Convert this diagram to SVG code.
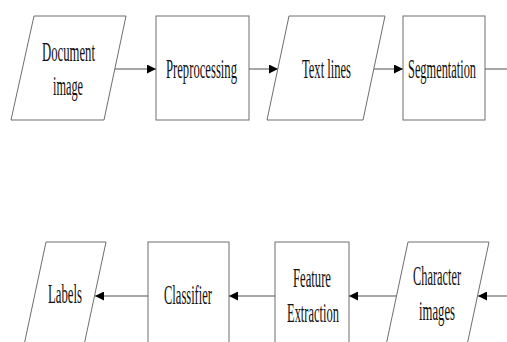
<svg xmlns="http://www.w3.org/2000/svg" width="507" height="342" viewBox="0 0 507 342">
<style>
.shape{fill:#fff;stroke:#6e6e6e;stroke-width:1}
.t{font-family:"Liberation Serif","Times New Roman",serif;font-size:27px;fill:#111}
.edge{fill:none;stroke:#8a8a8a;stroke-width:1.5}
</style>
<defs>
<marker id="ah" viewBox="0 0 10 10" refX="10" refY="5" markerWidth="9" markerHeight="9" markerUnits="userSpaceOnUse" orient="auto">
<path d="M0,0 L10,5 L0,10 Z" fill="#000"/>
</marker>
</defs>
<rect width="507" height="342" fill="#fff"/>
<g id="connectors">
<line class="edge" x1="115" y1="69" x2="156" y2="69" marker-end="url(#ah)"/>
<line class="edge" x1="249" y1="69" x2="278" y2="69" marker-end="url(#ah)"/>
<line class="edge" x1="374" y1="69" x2="403" y2="69" marker-end="url(#ah)"/>
<line class="edge" x1="485" y1="69" x2="507" y2="69"/>
<line class="edge" x1="507" y1="296" x2="478" y2="296" marker-end="url(#ah)"/>
<line class="edge" x1="397" y1="296" x2="349" y2="296" marker-end="url(#ah)"/>
<line class="edge" x1="275" y1="296" x2="229" y2="296" marker-end="url(#ah)"/>
<line class="edge" x1="148" y1="296" x2="95" y2="296" marker-end="url(#ah)"/>
</g>
<g id="document-image">
<polygon class="shape" points="34,16 126,16 104,120 11,120"/>
<text class="t" x="42" y="61" textLength="53" lengthAdjust="spacingAndGlyphs">Document</text>
<text class="t" x="53" y="95" textLength="30" lengthAdjust="spacingAndGlyphs">image</text>
</g>
<g id="preprocessing">
<rect class="shape" x="156" y="16" width="93" height="104"/>
<text class="t" x="166" y="78" textLength="71" lengthAdjust="spacingAndGlyphs">Preprocessing</text>
</g>
<g id="text-lines">
<polygon class="shape" points="289,16 385,16 363,120 267,120"/>
<text class="t" x="302" y="78" textLength="49" lengthAdjust="spacingAndGlyphs">Text lines</text>
</g>
<g id="segmentation">
<rect class="shape" x="403" y="16" width="82" height="104"/>
<text class="t" x="408" y="78" textLength="68" lengthAdjust="spacingAndGlyphs">Segmentation</text>
</g>
<g id="character-images">
<polygon class="shape" points="408,242 489,242 466,350 385,350"/>
<text class="t" x="413" y="285" textLength="48" lengthAdjust="spacingAndGlyphs">Character</text>
<text class="t" x="419" y="320" textLength="36" lengthAdjust="spacingAndGlyphs">images</text>
</g>
<g id="feature-extraction">
<rect class="shape" x="275" y="242" width="74" height="110"/>
<text class="t" x="293" y="287" textLength="38" lengthAdjust="spacingAndGlyphs">Feature</text>
<text class="t" x="287" y="322" textLength="52" lengthAdjust="spacingAndGlyphs">Extraction</text>
</g>
<g id="classifier">
<rect class="shape" x="148" y="242" width="81" height="110"/>
<text class="t" x="164" y="304" textLength="48" lengthAdjust="spacingAndGlyphs">Classifier</text>
</g>
<g id="labels">
<polygon class="shape" points="46,242 106,242 83,350 23,350"/>
<text class="t" x="48" y="303" textLength="34" lengthAdjust="spacingAndGlyphs">Labels</text>
</g>
</svg>
